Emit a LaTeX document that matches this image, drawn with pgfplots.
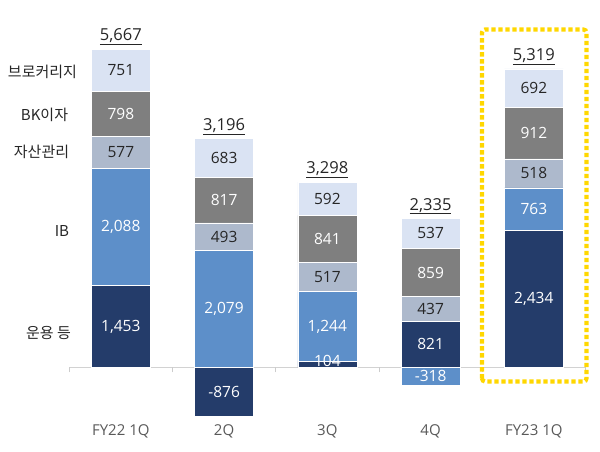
\documentclass[border=0pt]{standalone}
\usepackage{pgfplots}
\pgfplotsset{compat=1.18}
\usepackage{fontspec}
\setmainfont{Open Sans}
\newfontfamily\kor{Noto Sans CJK KR}
\definecolor{cNavy}{RGB}{36,60,106}
\definecolor{cIB}{RGB}{93,143,201}
\definecolor{cAM}{RGB}{173,185,204}
\definecolor{cBK}{RGB}{127,127,127}
\definecolor{cBR}{RGB}{218,227,243}
\definecolor{cTxt}{RGB}{38,38,38}
\definecolor{cTick}{RGB}{89,89,89}
\definecolor{cYel}{RGB}{255,215,0}
\newcommand{\numfont}{\fontsize{15.5}{18}\selectfont}
\newcommand{\totfont}{\fontsize{16.5}{19}\selectfont}
\newcommand{\tickfont}{\fontsize{15}{18}\selectfont}
\newcommand{\korfont}{\kor\fontsize{15}{17}\selectfont}
\pgfplotsset{base/.style={
  scale only axis, width=516.25pt, height=392.84pt,
  xmin=-0.5, xmax=4.5, ymin=-1000, ymax=6000,
  clip=false, at={(69.2pt,27.58pt)}, anchor=south west}}
\begin{document}
\begin{tikzpicture}
\useasboundingbox (0,0) rectangle (600pt,451pt);
\begin{axis}[base, ybar stacked, bar width=59pt,
  axis y line=none, axis x line*=middle,
  x axis line style={draw=gray!35, line width=0.8pt},
  xtick={0,1,2,3,4}, xticklabels={FY22 1Q,2Q,3Q,4Q,FY23 1Q},
  major tick length=0pt,
  xticklabel style={yshift=-54pt, text=cTick, font=\tickfont},
  extra x ticks={-0.5,0.5,1.5,2.5,3.5,4.5}, extra x tick labels={},
  extra x tick style={major tick length=5pt, tick align=outside, tick style={draw=gray!40, line width=0.8pt}},
  every axis plot/.append style={draw=white, line width=0.6pt}]
% 운용 등 (negative values drawn in the second axis)
\addplot[fill=cNavy] coordinates {(0,1453) (1,0) (2,104) (3,821) (4,2434)};
% IB
\addplot[fill=cIB] coordinates {(0,2088) (1,2079) (2,1244) (3,0) (4,763)};
% 자산관리
\addplot[fill=cAM] coordinates {(0,577) (1,493) (2,517) (3,437) (4,518)};
% BK이자
\addplot[fill=cBK] coordinates {(0,798) (1,817) (2,841) (3,859) (4,912)};
% 브로커리지
\addplot[fill=cBR] coordinates {(0,751) (1,683) (2,592) (3,537) (4,692)};
\end{axis}
\begin{axis}[base, axis lines=none]
\addplot[ybar, bar width=59pt, bar shift=0pt, fill=cNavy, draw=white, line width=0.6pt] coordinates {(1,-876)};
\addplot[ybar, bar width=59pt, bar shift=0pt, fill=cIB, draw=white, line width=0.6pt] coordinates {(3,-318)};
% white labels
\addplot[only marks, mark=none, nodes near coords, point meta=explicit symbolic,
  every node near coord/.append style={anchor=center, text=white, font=\numfont}]
  table[meta=lab] {
x y lab
0 726.5 1,453
0 2497 2,088
0 4517 798
1 -438 -876
1 1039.5 2,079
1 2980.5 817
2 110 104
2 726 1,244
2 2285.5 841
3 410.5 821
3 -159 -318
3 1687.5 859
4 1217 2,434
4 2815.5 763
4 4171 912
};
% dark labels
\addplot[only marks, mark=none, nodes near coords, point meta=explicit symbolic,
  every node near coord/.append style={anchor=center, text=cTxt, font=\numfont}]
  table[meta=lab] {
x y lab
0 3829.5 577
0 5291.5 751
1 2325.5 493
1 3730.5 683
2 1606.5 517
2 3002 592
3 1039.5 437
3 2385.5 537
4 3456 518
4 4973 692
};
% totals
\addplot[only marks, mark=none, nodes near coords={\underline{\pgfplotspointmeta}}, point meta=explicit symbolic,
  every node near coord/.append style={anchor=south, inner sep=1pt, yshift=3pt, text=cTxt, font=\totfont}]
  table[meta=lab] {
x y lab
0 5667 5,667
1 4072 3,196
2 3298 3,298
3 2654 2,335
4 5319 5,319
};
\node[font=\korfont, text=cTxt] at (axis cs:-0.7586,5262) {브로커리지};
\node[font=\korfont, text=cTxt] at (axis cs:-0.739,4496) {BK이자};
\node[font=\korfont, text=cTxt] at (axis cs:-0.768,3837) {자산관리};
\node[font=\korfont, text=cTxt] at (axis cs:-0.570,2429) {IB};
\node[font=\korfont, text=cTxt] at (axis cs:-0.70,611) {운용 등};
\draw[cYel, line width=4.2pt, dash pattern=on 4.3pt off 2.7pt, rounded corners=3pt]
  (axis cs:3.498,-253) rectangle (axis cs:4.510,6019);
\end{axis}
\end{tikzpicture}
\end{document}
